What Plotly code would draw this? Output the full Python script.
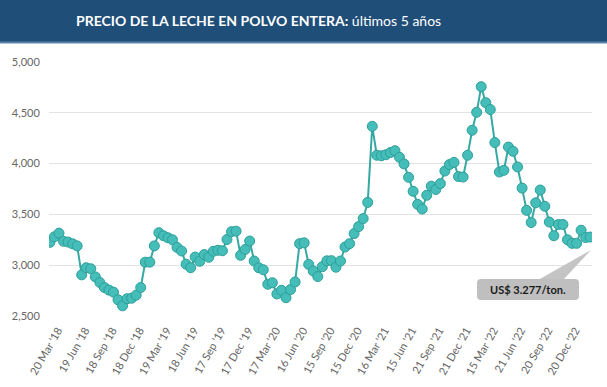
import plotly.graph_objects as go

# Whole milk powder price (US$/ton), GDT events Mar 2018 - Mar 2023
prices = [
    3225, 3280, 3315, 3235, 3228, 3210, 3190, 2905, 2975, 2965,
    2885, 2830, 2780, 2755, 2735, 2660, 2600, 2670, 2675, 2705,
    2780, 3030, 3030, 3190, 3320, 3290, 3270, 3250, 3175, 3140,
    3010, 2975, 3080, 3038, 3105, 3078, 3137, 3147, 3142, 3253,
    3330, 3335, 3097, 3155, 3238, 3041, 2975, 2955, 2812, 2827,
    2717, 2753, 2680, 2760, 2835, 3212, 3220, 3008, 2943, 2888,
    2985, 3043, 3045, 2980, 3041, 3179, 3212, 3311, 3380, 3459,
    3618, 4367, 4082, 4077, 4087, 4109, 4127, 4062, 3997, 3865,
    3727, 3599, 3553, 3688, 3778, 3745, 3803, 3927, 3990, 4012,
    3872, 3868, 4082, 4328, 4505, 4757, 4600, 4532, 4207, 3917,
    3934, 4163, 4121, 3967, 3759, 3540, 3420, 3614, 3740, 3580,
    3425, 3290, 3400, 3401, 3250, 3215, 3215, 3344, 3272, 3277,
]

tick_labels = [
    "20 Mar '18", "19 Jun '18", "18 Sep '18", "18 Dec '18", "19 Mar '19",
    "18 Jun '19", "17 Sep '19", "17 Dec '19", "17 Mar '20", "16 Jun '20",
    "15 Sep '20", "15 Dec '20", "16 Mar '21", "15 Jun '21", "21 Sep '21",
    "21 Dec '21", "15 Mar '22", "21 Jun '22", "20 Sep '22", "20 Dec '22",
]

title_bold = "PRECIO DE LA LECHE EN POLVO ENTERA:"
title_rest = " últimos 5 años"
callout_text = "US$ 3.277/ton."

x = list(range(len(prices)))
tick_step = 6
tickvals = x[::tick_step][:len(tick_labels)]

W, H = 607, 387
L, R, T, B = 49, 15, 62, 71
pw, ph = W - L - R, H - T - B

def px(xp):
    return (xp - L) / pw

def py(yp):
    return (H - B - yp) / ph

fig = go.Figure()
fig.add_trace(go.Scatter(
    x=x, y=prices, mode="lines+markers",
    line=dict(color="#36A9A4", width=2),
    marker=dict(size=10, color="#45BDB8", line=dict(color="#2E9F9A", width=1)),
    hoverinfo="y",
))

shapes = []
# title bar
shapes.append(dict(type="rect", xref="paper", yref="paper",
                   x0=px(0), x1=px(W), y0=py(42), y1=py(0),
                   fillcolor="#1F4E79", line=dict(width=0), layer="below"))
shapes.append(dict(type="rect", xref="paper", yref="paper",
                   x0=px(0), x1=px(W), y0=py(43.5), y1=py(41.5),
                   fillcolor="#5B84AC", line=dict(width=0), layer="below"))
# callout pointer
shapes.append(dict(type="path", xref="paper", yref="paper",
                   path=f"M {px(538)} {py(280)} L {px(563)} {py(280)} L {px(591)} {py(250)} Z",
                   fillcolor="#C4C4C4", line=dict(width=0)))
# callout rounded box
x0, x1, y0, y1 = 477, 579, 279, 300
r = 4
rx, ry = r / pw, r / ph
X0, X1, Y0, Y1 = px(x0), px(x1), py(y1), py(y0)
path = (f"M {X0+rx} {Y1} L {X1-rx} {Y1} Q {X1} {Y1} {X1} {Y1-ry} "
        f"L {X1} {Y0+ry} Q {X1} {Y0} {X1-rx} {Y0} L {X0+rx} {Y0} "
        f"Q {X0} {Y0} {X0} {Y0+ry} L {X0} {Y1-ry} Q {X0} {Y1} {X0+rx} {Y1} Z")
shapes.append(dict(type="path", xref="paper", yref="paper", path=path,
                   fillcolor="#BFBFBF", line=dict(width=0)))

annotations = [
    dict(xref="paper", yref="paper", x=px(258.5), y=py(20), xanchor="center", yanchor="middle",
         text=f"<b>{title_bold}</b>{title_rest}", showarrow=False,
         font=dict(family="Lato, Open Sans, sans-serif", size=14, color="white")),
    dict(xref="paper", yref="paper", x=px(528), y=py(289.5), xanchor="center", yanchor="middle",
         text=f"<b>{callout_text}</b>", showarrow=False,
         font=dict(family="Lato, Open Sans, sans-serif", size=11, color="#1A1A1A")),
]

fig.update_layout(
    width=W, height=H,
    margin=dict(l=L, r=R, t=T, b=B, pad=0, autoexpand=False),
    paper_bgcolor="white", plot_bgcolor="white",
    showlegend=False,
    shapes=shapes, annotations=annotations,
    xaxis=dict(
        range=[-0.2, 119.4], tickmode="array", tickvals=tickvals, ticktext=tick_labels,
        tickangle=-60, showgrid=False, zeroline=False, showline=False, automargin=False,
        ticks="", ticklabelshift=8, ticklabelstandoff=5,
        tickfont=dict(family="Lato, sans-serif", size=11, color="#666666"),
    ),
    yaxis=dict(
        range=[2500, 5000], tickvals=[2500, 3000, 3500, 4000, 4500, 5000], tickformat=",",
        showgrid=True, gridcolor="#E3E3E3", gridwidth=1, zeroline=False, showline=False,
        automargin=False,
        ticks="outside", ticklen=6, tickcolor="rgba(0,0,0,0)",
        tickfont=dict(family="Lato, sans-serif", size=11, color="#666666"),
    ),
)

fig.write_html("out.html", config={"displayModeBar": False},
               post_script="document.body.style.margin='0';document.body.style.overflow='hidden';")
